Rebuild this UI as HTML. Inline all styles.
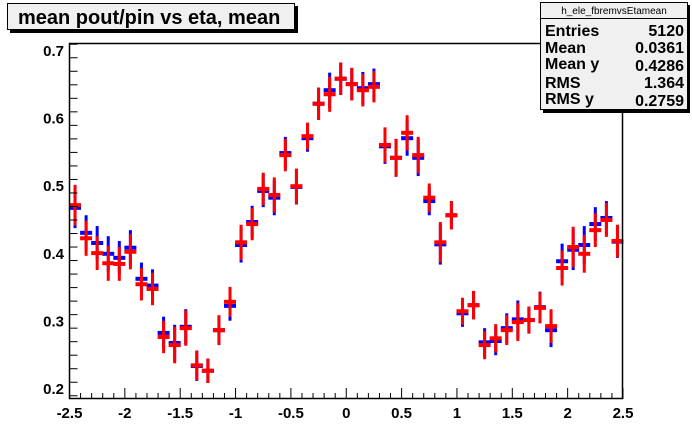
<!DOCTYPE html>
<html><head><meta charset="utf-8"><style>
body{margin:0;background:#fff;}
svg{display:block;font-family:"Liberation Sans",Arial,sans-serif;font-weight:bold;}
</style></head><body>
<svg id="c" width="692" height="444" viewBox="0 0 692 444" xmlns="http://www.w3.org/2000/svg">
<rect x="0" y="0" width="692" height="444" fill="#fff"/>
<g id="marks"></g>
<rect x="69.5" y="43.5" width="553" height="355" fill="none" stroke="#000" stroke-width="1.5"/>
<g id="axes"></g>
<g>
<rect x="10" y="6" width="288" height="27" fill="#000"/>
<rect x="7.5" y="3.5" width="287" height="26" fill="#f0f0f0" stroke="#000" stroke-width="1"/>
<text x="18" y="24" font-size="20">mean pout/pin vs eta, mean</text>
</g>
<g>
<rect x="543" y="5" width="147" height="108" fill="#000"/>
<rect x="540.5" y="2.5" width="147" height="107" fill="#f0f0f0" stroke="#000" stroke-width="1"/>
<line x1="540.5" y1="18.5" x2="687.5" y2="18.5" stroke="#000"/>
<text x="614" y="14" font-size="10" font-weight="normal" text-anchor="middle">h_ele_fbremvsEtamean</text>
<g font-size="16">
<text x="545" y="36">Entries</text><text x="684" y="36" text-anchor="end">5120</text>
<text x="545" y="53">Mean</text><text x="684" y="53" text-anchor="end">0.0361</text>
<text x="545" y="69">Mean y</text><text x="684" y="71" text-anchor="end">0.4286</text>
<text x="545" y="88">RMS</text><text x="684" y="88" text-anchor="end">1.364</text>
<text x="545" y="104">RMS y</text><text x="684" y="106" text-anchor="end">0.2759</text>
</g>
</g>
</svg>
<script>
const etaCenters=[-2.45,-2.35,-2.25,-2.15,-2.05,-1.95,-1.85,-1.75,-1.65,-1.55,-1.45,-1.35,-1.25,-1.15,-1.05,-0.95,-0.85,-0.75,-0.65,-0.55,-0.45,-0.35,-0.25,-0.15,-0.05,0.05,0.15,0.25,0.35,0.45,0.55,0.65,0.75,0.85,0.95,1.05,1.15,1.25,1.35,1.45,1.55,1.65,1.75,1.85,1.95,2.05,2.15,2.25,2.35,2.45];
const redValues=[0.472,0.423,0.401,0.386,0.385,0.403,0.355,0.348,0.277,0.265,0.290,0.235,0.227,0.287,0.329,0.417,0.444,0.496,0.487,0.546,0.500,0.574,0.622,0.636,0.659,0.651,0.642,0.647,0.561,0.542,0.579,0.546,0.483,0.417,0.457,0.315,0.324,0.265,0.275,0.287,0.299,0.302,0.320,0.293,0.379,0.410,0.400,0.435,0.450,0.419];
const blueValues=[0.468,0.431,0.416,0.400,0.394,0.409,0.363,0.353,0.283,0.268,0.292,0.234,0.227,0.287,0.323,0.413,0.447,0.493,0.483,0.549,0.499,0.571,0.622,0.642,0.659,0.651,0.645,0.651,0.559,0.542,0.571,0.542,0.478,0.414,0.457,0.312,0.324,0.269,0.271,0.290,0.303,0.302,0.321,0.287,0.389,0.406,0.413,0.444,0.453,0.418];
const errValues=[0.030,0.026,0.025,0.026,0.025,0.026,0.024,0.024,0.024,0.027,0.026,0.022,0.018,0.022,0.022,0.026,0.024,0.024,0.026,0.024,0.026,0.020,0.024,0.026,0.024,0.024,0.024,0.023,0.026,0.028,0.026,0.027,0.021,0.030,0.021,0.020,0.021,0.021,0.021,0.022,0.028,0.020,0.023,0.025,0.026,0.030,0.028,0.025,0.025,0.024];
const xTicks=[-2.5,-2,-1.5,-1,-0.5,0,0.5,1,1.5,2,2.5];
const xTickLabels=["-2.5","-2","-1.5","-1","-0.5","0","0.5","1","1.5","2","2.5"];
const yTicks=[0.2,0.3,0.4,0.5,0.6,0.7];
const yTickLabels=["0.2","0.3","0.4","0.5","0.6","0.7"];
const NS="http://www.w3.org/2000/svg";
const X0=69.5,X1=623,Y0=399,YT=43.5;
function xs(v){return X0+(v+2.5)/5*(X1-X0);}
function ys(v){return 389-(v-0.2)/0.5*338;}
function mk(t,a,p){const e=document.createElementNS(NS,t);for(const k in a)e.setAttribute(k,a[k]);p.appendChild(e);return e;}
const marks=document.getElementById('marks'),axes=document.getElementById('axes');
function drawSeries(vals,col,nm){
  vals.forEach((v,i)=>{
    const cx=xs(etaCenters[i]),cy=ys(v),e=errValues[i]*676;
    const g=mk('g',{},marks);
    
    
    mk('rect',{x:cx-1.5,y:cy-e,width:3,height:2*e,fill:col},g);
    mk('rect',{x:cx-6,y:cy-2,width:12,height:4,fill:col},g);
  });
}
drawSeries(blueValues,'#0000ff','blue-series');
drawSeries(redValues,'#ff0000','red-series');
for(let v=-2.5;v<=2.501;v+=0.1){
  const x=xs(v),big=Math.abs(v*2-Math.round(v*2))<1e-6;
  const t=mk('line',{x1:x,x2:x,y1:Y0,y2:Y0-(big?11:6),stroke:'#000','stroke-width':1},axes);
  
  
}
xTicks.forEach((v,i)=>{
  const t=mk('text',{x:xs(v),y:418,'font-size':15,'text-anchor':'middle'},axes);
  t.textContent=xTickLabels[i];
  
  
});
for(let v=0.19;v<=0.715;v+=0.02){
  const y=ys(v);if(y>Y0||y<YT)continue;
  const big=Math.abs(v*10-Math.round(v*10))<1e-6;
  const t=mk('line',{x1:X0,x2:X0+(big?16:8),y1:y,y2:y,stroke:'#000','stroke-width':1},axes);
  
  
}
yTicks.forEach((v,i)=>{
  const t=mk('text',{x:64,y:ys(v)+5,'font-size':15,'text-anchor':'end'},axes);
  t.textContent=yTickLabels[i];
  
  
});
</script>
</body></html>
